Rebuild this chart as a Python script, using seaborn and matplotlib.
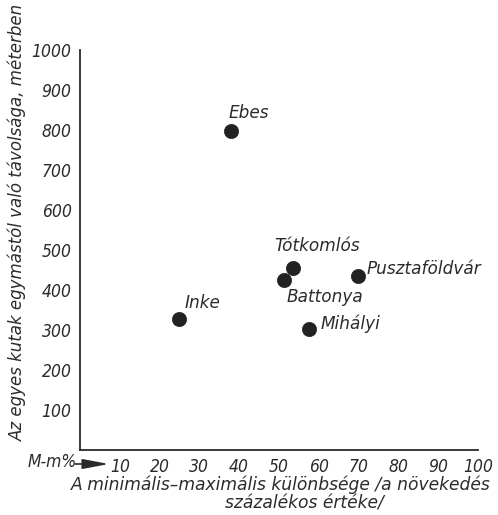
import matplotlib
matplotlib.use("Agg")
import matplotlib.pyplot as plt
import seaborn as sns
import pandas as pd

# Wells: spread of min-max difference (%) vs. distance between wells (m)
places = ["Ebes", "Inke", "Battonya", "Tótkomlós", "Pusztaföldvár", "Mihályi"]
diff_pct = [37.9, 24.8, 51.2, 53.6, 69.8, 57.6]
distance_m = [797, 327, 425, 455, 435, 302]
x_ticks = [10, 20, 30, 40, 50, 60, 70, 80, 90, 100]
y_ticks = [100, 200, 300, 400, 500, 600, 700, 800, 900, 1000]

# label offsets in points relative to each dot
label_offsets = {
    "Ebes": (-2, 13),
    "Inke": (4, 12),
    "Battonya": (2, -12),
    "Tótkomlós": (-14, 16),
    "Pusztaföldvár": (6, 5),
    "Mihályi": (8, 4),
}

df = pd.DataFrame({"place": places, "diff": diff_pct, "dist": distance_m})

sns.set_style("white")
plt.rcParams["font.family"] = ["DejaVu Sans"]

ink = "#2b2b2b"
tick_font = dict(family="DejaVu Sans", stretch="condensed", style="italic",
                 size=12.5)

fig = plt.figure(figsize=(4.98, 5.15), dpi=100)
ax = fig.add_axes([80 / 498, 1 - 450 / 515, 398 / 498, 400 / 515])

sns.scatterplot(data=df, x="diff", y="dist", ax=ax, s=105, color="#222222",
                edgecolor="#222222", linewidth=0.5, legend=False, zorder=3)

for p, xv, yv in zip(places, diff_pct, distance_m):
    ax.annotate(p, (xv, yv), xytext=label_offsets[p], textcoords="offset points",
                fontsize=12.2, style="italic", color=ink, ha="left", va="center")

ax.set_xlim(0, 100)
ax.set_ylim(0, 1000)
ax.set_xticks(x_ticks)
ax.set_yticks(y_ticks)
ax.set_xticklabels([str(t) for t in x_ticks], fontdict=tick_font, color=ink)
ax.set_yticklabels([str(t) for t in y_ticks], fontdict=tick_font, color=ink)
ax.tick_params(axis="both", direction="out", length=4, width=1.0, color=ink, pad=2)

for s in ["top", "right"]:
    ax.spines[s].set_visible(False)
for s in ["left", "bottom"]:
    ax.spines[s].set_color(ink)
    ax.spines[s].set_linewidth(1.3)

ax.set_xlabel("")
ax.set_ylabel("")

fig.text(18 / 498, 1 - 222 / 515,
         "Az egyes kutak egymástól való távolsága, méterben",
         rotation=90, ha="center", va="center", fontsize=12, style="italic",
         color=ink)

fig.text(281 / 498, 1 - 485 / 515,
         "A minimális–maximális különbsége /a növekedés",
         ha="center", va="center", fontsize=12.3, style="italic", color=ink)
fig.text(304 / 498, 1 - 503 / 515, "százalékos értéke/",
         ha="center", va="center", fontsize=12.3, style="italic", color=ink)

# M-m% marker with arrow pointing to the first x tick
fig.text(28 / 498, 1 - 462 / 515, "M-m%", ha="left", va="center",
         fontsize=12.5, family="DejaVu Sans", stretch="condensed", style="italic",
         color=ink)
ax.annotate("", xy=(109 / 498, 1 - 464 / 515), xytext=(75 / 498, 1 - 464 / 515),
            xycoords="figure fraction", textcoords="figure fraction",
            arrowprops=dict(arrowstyle="-|>,head_length=1.6,head_width=0.3",
                            color=ink, lw=1.2, shrinkA=0, shrinkB=0))

fig.savefig("out.png", dpi=100)
